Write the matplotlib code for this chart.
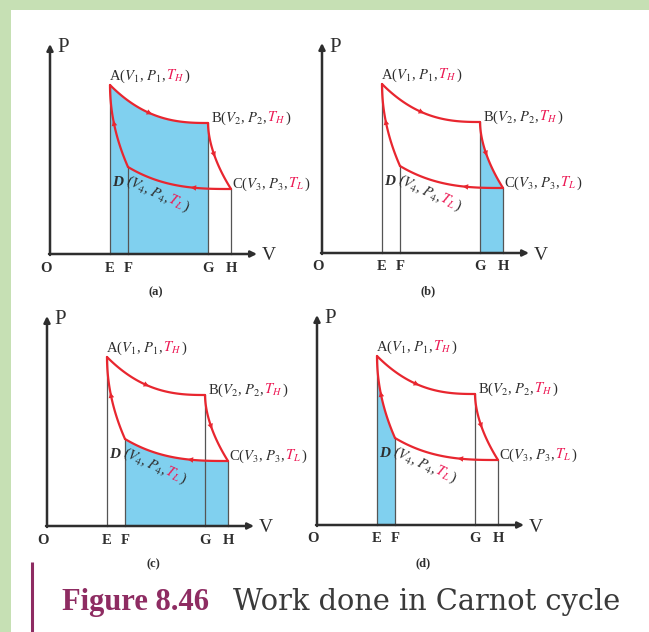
import numpy as np
import matplotlib
matplotlib.use("Agg")
import matplotlib.pyplot as plt
from matplotlib import transforms
from matplotlib.patches import Rectangle

plt.rcParams['font.family'] = ['Liberation Serif', 'DejaVu Serif']
plt.rcParams['mathtext.fontset'] = 'stix'

# volumes (E, F, G, H) and pressures (A, B, C, D) in drawing units
V_E, V_F, V_G, V_H = 60, 78, 158, 181
P_A, P_B, P_C, P_D = 169, 131, 65, 87

point_labels = [
    ("A", "1", "H"),
    ("B", "2", "H"),
    ("C", "3", "L"),
    ("D", "4", "L"),
]
axis_letters = ["E", "F", "G", "H"]
panel_names = ["(a)", "(b)", "(c)", "(d)"]
# origin of each panel in pixels (x from left, y from top)
origins = [(50, 254), (322, 253), (47, 526), (317, 525)]
shaded = ["AB", "BC", "CD", "DA"]

caption_bold = "Figure 8.46"
caption_rest = "Work done in Carnot cycle"

RED = "#e8262f"
TRED = "#ec1a55"
DARK = "#2e2e2e"
FILL = "#80d0ef"
GREEN = "#c6e0b4"
MAROON = "#8e2c62"
LBL = 10.5

W, H = 649, 632
fig = plt.figure(figsize=(W / 100, H / 100), dpi=100)
renderer = fig.canvas.get_renderer()

# page background in pixel coords
bg = fig.add_axes([0, 0, 1, 1])
bg.set_xlim(0, W)
bg.set_ylim(H, 0)
bg.axis("off")
bg.add_patch(Rectangle((0, 0), W, 10, color=GREEN, lw=0))
bg.add_patch(Rectangle((0, 0), 11, H, color=GREEN, lw=0))
bg.plot([32, 32], [562, 632], color=MAROON, lw=2.2, solid_capstyle="butt")

bg.text(62, 610, caption_bold, fontsize=22, fontweight="bold", color=MAROON,
        ha="left", va="baseline")
bg.text(233, 610, caption_rest, fontsize=20.8, color="#3a3a3a", family="DejaVu Serif",
        ha="left", va="baseline")


def rich_text(ax, x, y, pieces, size, angle=0.0):
    off = 0.0
    rad = np.deg2rad(angle)
    for s, c in pieces:
        tr = transforms.offset_copy(ax.transData, fig=fig, x=off * np.cos(rad),
                                    y=off * np.sin(rad), units="dots")
        ax.text(x, y, s, color=c, fontsize=size, ha="left", va="baseline",
                rotation=angle, rotation_mode="anchor", transform=tr)
        probe = ax.text(0, 0, s, fontsize=size)
        off += probe.get_window_extent(renderer).width
        probe.remove()


def label_pieces(name, sub, temp, with_name=True):
    head = name + "(" if with_name else "("
    return [(head + r"$V_{%s}$, $P_{%s}$,$\,$" % (sub, sub), DARK),
            (r"$T_{%s}$" % temp, TRED), (")", DARK)]


# cycle curves
t = np.linspace(0, 1, 80)
ab_v = V_E + (V_G - V_E) * t
ab_p = P_B + (P_A - P_B) * (1 - t) ** 2.6
bc_p = P_B - (P_B - P_C) * t
bc_v = V_G + (V_H - V_G) * t ** 1.8
cd_v = V_H - (V_H - V_F) * t
cd_p = P_C + (P_D - P_C) * (1 - (cd_v - V_F) / (V_H - V_F)) ** 2.8
da_p = P_D + (P_A - P_D) * t
da_v = V_E + (V_F - V_E) * (1 - t) ** 2.0
curves = {"AB": (ab_v, ab_p), "BC": (bc_v, bc_p), "CD": (cd_v, cd_p), "DA": (da_v, da_p)}
arrow_at = {"AB": 0.41, "BC": 0.5, "CD": 0.37, "DA": 0.55}
fill_base = {"AB": (V_E, V_G), "BC": (V_G, V_H), "CD": (V_F, V_H), "DA": (V_E, V_F)}

for (ox, oy), pname, key in zip(origins, panel_names, shaded):
    ax = fig.add_axes([(ox - 30) / W, (H - (oy + 48)) / H, 300 / W, 263 / H])
    ax.set_xlim(-30, 270)
    ax.set_ylim(-48, 215)
    ax.axis("off")

    # shaded work area
    cv, cp = curves[key]
    v0, v1 = fill_base[key]
    order = np.argsort(cv)
    ax.fill(np.r_[v0, cv[order], v1], np.r_[0, cp[order], 0], color=FILL, lw=0, zorder=1)

    # axes with arrows
    ax.annotate("", xy=(0, 210), xytext=(0, -1),
                arrowprops=dict(arrowstyle="-|>", color=DARK, lw=1.8, mutation_scale=9,
                                shrinkA=0, shrinkB=0), zorder=3)
    ax.annotate("", xy=(207, 0), xytext=(-1, 0),
                arrowprops=dict(arrowstyle="-|>", color=DARK, lw=1.8, mutation_scale=9,
                                shrinkA=0, shrinkB=0), zorder=3)
    ax.text(7, 206, "P", fontsize=15, color=DARK, ha="left", va="center")
    ax.text(212, -2, "V", fontsize=14, color=DARK, ha="left", va="center")
    ax.text(-4, -14, "O", fontsize=10.5, fontweight="bold", color=DARK, ha="center", va="center")
    for v, s in zip([V_E, V_F, V_G, V_H], axis_letters):
        ax.text(v, -14, s, fontsize=10.5, fontweight="bold", color=DARK, ha="center", va="center")
    ax.text(106, -38, pname, fontsize=9, fontweight="bold", color=DARK, ha="center", va="center")

    # guide lines
    for v, p in zip([V_E, V_F, V_G, V_H], [P_A, P_D, P_B, P_C]):
        ax.plot([v, v], [0, p], color="#555555", lw=0.9, zorder=2)

    # cycle
    for k, (cv, cp) in curves.items():
        ax.plot(cv, cp, color=RED, lw=1.6, zorder=4, solid_capstyle="round")
        i = int(arrow_at[k] * (len(cv) - 1))
        ax.annotate("", xy=(cv[i + 2], cp[i + 2]), xytext=(cv[i - 2], cp[i - 2]),
                    arrowprops=dict(arrowstyle="-|>", color=RED, lw=0, mutation_scale=10,
                                    shrinkA=0, shrinkB=0), zorder=5)

    # point labels
    rich_text(ax, V_E - 1, P_A + 5, label_pieces(*point_labels[0]), LBL)
    rich_text(ax, V_G + 3, P_B + 1, label_pieces(*point_labels[1]), LBL)
    rich_text(ax, V_H + 1, P_C + 1, label_pieces(*point_labels[2]), LBL)
    ax.text(V_E + 2, P_D - 19, point_labels[3][0], fontsize=LBL + 0.5, color=DARK,
            ha="left", va="baseline", fontstyle="italic", fontweight="bold")
    rich_text(ax, V_E + 15, P_D - 16, label_pieces(*point_labels[3], with_name=False),
              LBL, angle=-25)

fig.savefig("out.png", dpi=100)
